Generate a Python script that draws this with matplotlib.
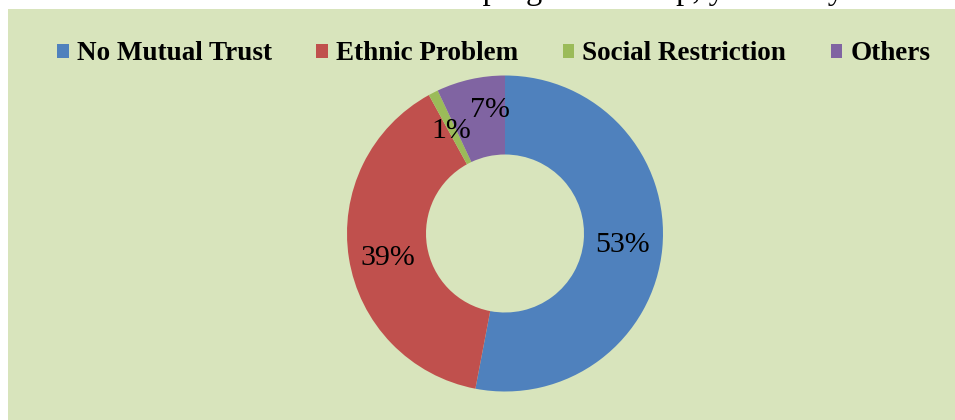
import matplotlib.pyplot as plt
from matplotlib.patches import Rectangle

# Reasons share (percent)
reasons = ['No Mutual Trust', 'Ethnic Problem', 'Social Restriction', 'Others']
shares = [53, 39, 1, 7]
colors = ['#4F81BD', '#C0504D', '#9BBB59', '#8064A2']

W, H = 955, 420
fig = plt.figure(figsize=(W / 100, H / 100), dpi=100)
fig.patch.set_facecolor('white')

# light green chart area with a thin white strip on the left and top
fig.patches.append(Rectangle((8 / W, 0), 1 - 8 / W, (H - 9) / H,
                             transform=fig.transFigure, facecolor='#D8E4BC',
                             edgecolor='none', zorder=-10))

# caption line of the page above, only its descenders show
prefix = 'Reasons that affect the '
caption = prefix + 'program as help, year and year'
cap_font = dict(family='Liberation Serif', fontsize=23.5)
renderer = fig.canvas.get_renderer()
tmp = fig.text(0, 0, prefix.rstrip() + ' ', **cap_font)
pre_w = tmp.get_window_extent(renderer).width
tmp.remove()
fig.text((483 - pre_w) / W, 1 + 1 / H, caption, va='baseline', ha='left', **cap_font)

# donut, radius 158 px centred at (505, 233)
cx, cy, r = 505, 420 - 233.5, 158
ax = fig.add_axes([(cx - r) / W, (cy - r) / H, 2 * r / W, 2 * r / H])

wedges, _, autotexts = ax.pie(
    shares, colors=colors, startangle=90, counterclock=False, radius=1,
    autopct=lambda p: f'{round(p)}%', pctdistance=0.75,
    wedgeprops=dict(width=0.5, edgecolor='none'),
    textprops=dict(family='Liberation Serif', fontsize=21.5, color='black'))
ax.set_xlim(-1, 1)
ax.set_ylim(-1, 1)
ax.axis('off')

# nudge the small-slice labels apart a little
x7, y7 = autotexts[3].get_position()
autotexts[3].set_position((x7 + 0.07, y7 + 0.05))
x1, y1 = autotexts[2].get_position()
autotexts[2].set_position((x1, y1 - 0.02))
x39, y39 = autotexts[1].get_position()
autotexts[1].set_position((x39, y39 - 0.04))

leg = fig.legend(wedges, reasons, loc='center', bbox_to_anchor=(0.517, 1 - 54 / H),
                 ncol=4, frameon=False, handlelength=0.42, handleheight=0.42,
                 handletextpad=0.3, columnspacing=1.65,
                 prop=dict(family='Liberation Serif', weight='bold', size=19.5))

fig.savefig('out.png', dpi=100)
